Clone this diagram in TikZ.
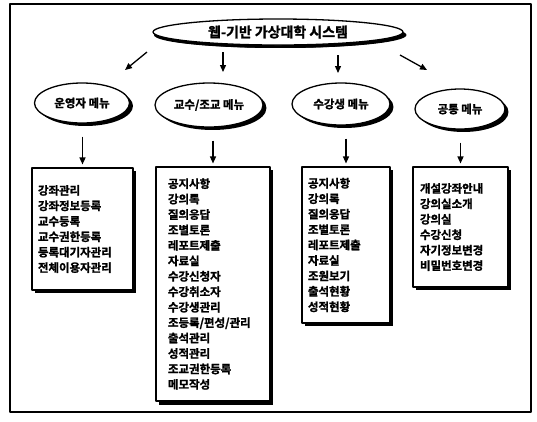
\documentclass[tikz,border=0pt]{standalone}
\usepackage{fontspec}
\setmainfont{Noto Sans CJK KR}[BoldFont={* Bold}, BoldFeatures={FakeBold=1.5}]
\usetikzlibrary{shapes.geometric,shadows,arrows.meta}
\tikzset{
	menu/.style={ellipse, draw, line width=1.3bp, fill=white, inner sep=0pt,
		font=\bfseries\fontsize{11.5}{14}\selectfont,
		drop shadow={fill=black, opacity=1, shadow xshift=3.5pt, shadow yshift=-3pt}},
	list/.style={rectangle, draw, line width=1.1bp, fill=white, align=left, inner ysep=0pt,
		font=\bfseries\fontsize{11.5}{15.5}\selectfont,
		drop shadow={fill=black, opacity=1, shadow xshift=3.5pt, shadow yshift=-3.5pt}},
}
\begin{document}
\begin{tikzpicture}[x=1bp, y=-1bp, line join=round, >={Triangle[length=7bp,width=6bp]}]
			\useasboundingbox (0,0) rectangle (537,421);
			\draw[line width=1.6bp] (10,4) rectangle (531,412);
			\node[menu, minimum width=250bp, minimum height=26bp, font=\bfseries\fontsize{14}{16}\selectfont,
				drop shadow={fill=black, opacity=1, shadow xshift=1pt, shadow yshift=-3pt}]
				(T) at (278,32) {웹-기반 가상대학 시스템};
			\node[menu, minimum width=95bp, minimum height=40bp] (A) at (82,103) {운영자 메뉴};
			\node[menu, minimum width=108bp, minimum height=44bp] (B) at (209,105) {교수/조교 메뉴};
			\node[menu, minimum width=98bp, minimum height=42bp] (C) at (341,104) {수강생 메뉴};
			\node[menu, minimum width=90bp, minimum height=40bp] (D) at (460,109) {공통 메뉴};
			\node[list, minimum width=101bp, minimum height=122bp, text width=89bp, inner xsep=6bp]
				(A') at (82.5,229) {강좌관리\\강좌정보등록\\교수등록\\교수권한등록\\등록대기자관리\\전체이용자관리};
			\node[list, minimum width=114bp, minimum height=234bp, text width=90bp, inner xsep=12bp]
				(B') at (213,284) {공지사항\\강의록\\질의응답\\조별토론\\레포트제출\\자료실\\수강신청자\\수강취소자\\수강생관리\\조등록/편성/관리\\출석관리\\성적관리\\조교권한등록\\메모작성};
			\node[list, minimum width=88bp, minimum height=156bp, text width=76bp, inner xsep=6bp]
				(C') at (346,245) {공지사항\\강의록\\질의응답\\조별토론\\레포트제출\\자료실\\조원보기\\출석현황\\성적현황};
			\node[list, minimum width=95bp, minimum height=120bp, text width=81bp, inner xsep=7bp]
				(D') at (460.5,227) {개설강좌안내\\강의실소개\\강의실\\수강신청\\자기정보변경\\비밀번호변경};
			\path
			(147,52)coordinate(TA)
			(125,70)coordinate(TA')
			(223,52)coordinate(TB)
			(223,72)coordinate(TB')
			(338,55)coordinate(TC)
			(338,73)coordinate(TC')
			(400,55)coordinate(TD)
			(427,70)coordinate(TD')
			;
			\foreach \m in {A,B,C,D}{
				\draw[->, line width=1.3bp] (T\m)--(T\m');
				\draw[->, line width=1.3bp, shorten <=13bp, shorten >=3bp] (\m'.north |- \m.south)--(\m'.north);}
\end{tikzpicture}
\end{document}
